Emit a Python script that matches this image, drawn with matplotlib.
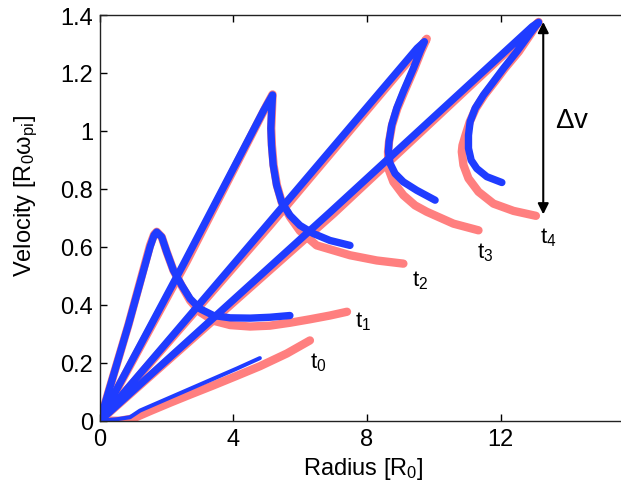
import matplotlib
matplotlib.use("Agg")
import matplotlib.pyplot as plt

plt.rcParams["font.family"] = ["Liberation Sans", "DejaVu Sans"]
plt.rcParams["mathtext.fontset"] = "custom"
plt.rcParams["mathtext.rm"] = "Liberation Sans"
plt.rcParams["mathtext.it"] = "Liberation Sans:italic"

PINK = "#ff7f7f"
BLUE = "#1f3cff"

# velocity profiles v(r) at five times, simulation (pink) and model (blue)
# t0
t0_sim_r = [0.0, 0.6, 1.0, 1.5, 2.1, 2.7, 3.4, 4.1, 4.79, 5.6, 6.29]
t0_sim_v = [0.0, 0.0, 0.008, 0.033, 0.062, 0.090, 0.122, 0.155, 0.188, 0.232, 0.277]
t0_mod_r = [0.0, 0.5, 0.9, 1.2, 2.0, 2.7, 3.4, 4.1, 4.79]
t0_mod_v = [0.0, 0.005, 0.012, 0.035, 0.075, 0.110, 0.145, 0.180, 0.216]

# t1
t1_sim_r = [0.0, 0.85, 1.50, 1.62, 1.70, 1.85, 2.00, 2.20, 2.45, 2.70, 3.00, 3.40,
            3.90, 4.50, 5.09, 5.69, 6.29, 6.89, 7.40]
t1_sim_v = [0.0, 0.33, 0.605, 0.642, 0.652, 0.634, 0.582, 0.519, 0.465, 0.415, 0.375, 0.345,
            0.330, 0.325, 0.328, 0.338, 0.350, 0.363, 0.376]
t1_mod_r = [0.0, 0.85, 1.50, 1.62, 1.70, 1.85, 2.00, 2.20, 2.45, 2.70, 3.00, 3.40,
            3.90, 4.50, 5.09, 5.69]
t1_mod_v = [0.0, 0.33, 0.600, 0.640, 0.651, 0.634, 0.582, 0.519, 0.467, 0.421, 0.386, 0.363,
            0.355, 0.354, 0.357, 0.363]

# t2
t2_sim_r = [0.0, 2.6, 5.0, 5.17, 5.15, 5.13, 5.15, 5.20, 5.30, 5.45, 5.70, 5.99, 6.49,
            7.49, 8.29, 9.09]
t2_sim_v = [0.0, 0.55, 1.09, 1.126, 1.066, 1.009, 0.951, 0.882, 0.813, 0.752, 0.702, 0.655, 0.605,
            0.571, 0.553, 0.542]
t2_mod_r = [0.0, 2.5, 4.9, 5.17, 5.14, 5.12, 5.14, 5.19, 5.29, 5.44, 5.69, 5.99, 6.39,
            6.89, 7.49]
t2_mod_v = [0.0, 0.54, 1.07, 1.124, 1.066, 1.009, 0.951, 0.882, 0.813, 0.755, 0.709, 0.674, 0.646,
            0.622, 0.605]

# t3
t3_sim_r = [0.0, 5.1, 9.6, 9.79, 9.62, 9.42, 9.12, 8.91, 8.75, 8.66, 8.63, 8.64, 8.79,
            9.09, 9.44, 9.79, 10.59, 11.34]
t3_sim_v = [0.0, 0.675, 1.29, 1.318, 1.274, 1.216, 1.136, 1.078, 1.020, 0.963, 0.928, 0.870, 0.824,
            0.778, 0.743, 0.721, 0.680, 0.657]
t3_mod_r = [0.0, 5.0, 9.5, 9.72, 9.59, 9.39, 9.09, 8.89, 8.74, 8.66, 8.64, 8.69, 8.84,
            9.09, 9.49, 10.04]
t3_mod_v = [0.0, 0.675, 1.285, 1.308, 1.274, 1.216, 1.136, 1.078, 1.020, 0.963, 0.928, 0.888, 0.853,
            0.824, 0.795, 0.761]

# t4
t4_sim_r = [0.0, 7.0, 12.95, 13.14, 12.92, 12.55, 12.13, 11.83, 11.52, 11.26, 11.08, 10.95,
            10.86, 10.84, 10.89, 11.04, 11.34, 11.79, 12.39, 13.06]
t4_sim_v = [0.0, 0.715, 1.355, 1.376, 1.337, 1.274, 1.216, 1.170, 1.124, 1.078, 1.032, 0.985,
            0.950, 0.928, 0.882, 0.836, 0.790, 0.749, 0.724, 0.707]
t4_mod_r = [0.0, 6.9, 12.95, 13.14, 12.89, 12.49, 12.09, 11.79, 11.49, 11.24, 11.09, 11.04,
            11.04, 11.12, 11.29, 11.59, 12.04]
t4_mod_v = [0.0, 0.72, 1.36, 1.375, 1.337, 1.274, 1.216, 1.170, 1.124, 1.078, 1.032, 0.985,
            0.940, 0.899, 0.870, 0.842, 0.822]

sim_r = [t0_sim_r, t1_sim_r, t2_sim_r, t3_sim_r, t4_sim_r]
sim_v = [t0_sim_v, t1_sim_v, t2_sim_v, t3_sim_v, t4_sim_v]
mod_r = [t0_mod_r, t1_mod_r, t2_mod_r, t3_mod_r, t4_mod_r]
mod_v = [t0_mod_v, t1_mod_v, t2_mod_v, t3_mod_v, t4_mod_v]
mod_lw = [2.9, 5.3, 5.3, 5.3, 5.3]

# time labels
time_labels = ["t$_0$", "t$_1$", "t$_2$", "t$_3$", "t$_4$"]
label_r = [6.29, 7.64, 9.34, 11.29, 13.19]
label_v = [0.185, 0.324, 0.467, 0.565, 0.617]

# velocity jump at t4
dv_r = 13.28
dv_lo, dv_hi = 0.712, 1.376

fig = plt.figure(figsize=(6.21, 4.85), dpi=100)
ax = fig.add_axes([0.161, 0.1305, 0.860, 0.8365])

for r, v in zip(sim_r, sim_v):
    ax.plot(r, v, color=PINK, lw=6.0, solid_capstyle="round", solid_joinstyle="round")
for r, v, lw in zip(mod_r, mod_v, mod_lw):
    ax.plot(r, v, color=BLUE, lw=lw, solid_capstyle="round", solid_joinstyle="round")

for lab, r, v in zip(time_labels, label_r, label_v):
    ax.text(r, v, lab, fontsize=16, ha="left", va="baseline")

ax.annotate("", xy=(dv_r, dv_hi), xytext=(dv_r, dv_lo),
            arrowprops=dict(arrowstyle="<|-|>", color="k", lw=1.5,
                            mutation_scale=16, shrinkA=0, shrinkB=0))
ax.text(13.63, 1.014, r"$\mathregular{\Delta v}$", fontsize=20, ha="left", va="baseline")

ax.set_xlim(0, 16)
ax.set_ylim(0, 1.4)
ax.set_xticks([0, 4, 8, 12])
ax.set_yticks([0, 0.2, 0.4, 0.6, 0.8, 1.0, 1.2, 1.4])
ax.set_yticklabels(["0", "0.2", "0.4", "0.6", "0.8", "1", "1.2", "1.4"])
ax.tick_params(direction="in", length=5, width=1, labelsize=17, pad=5,
               top=True, right=False)

for side in ["left", "bottom", "top"]:
    ax.spines[side].set_linewidth(1.0)
    ax.spines[side].set_color("#222222")
ax.spines["right"].set_visible(False)

ax.set_xlabel(r"Radius [R$_0$]", fontsize=17, va="baseline")
ax.xaxis.set_label_coords(0.4925, -0.131)
ax.set_ylabel(r"Velocity [R$_0$$\mathregular{\omega_{pi}}$]", fontsize=17, va="baseline")
ax.yaxis.set_label_coords(-0.129, 0.556)

fig.savefig("out.png", dpi=100)
